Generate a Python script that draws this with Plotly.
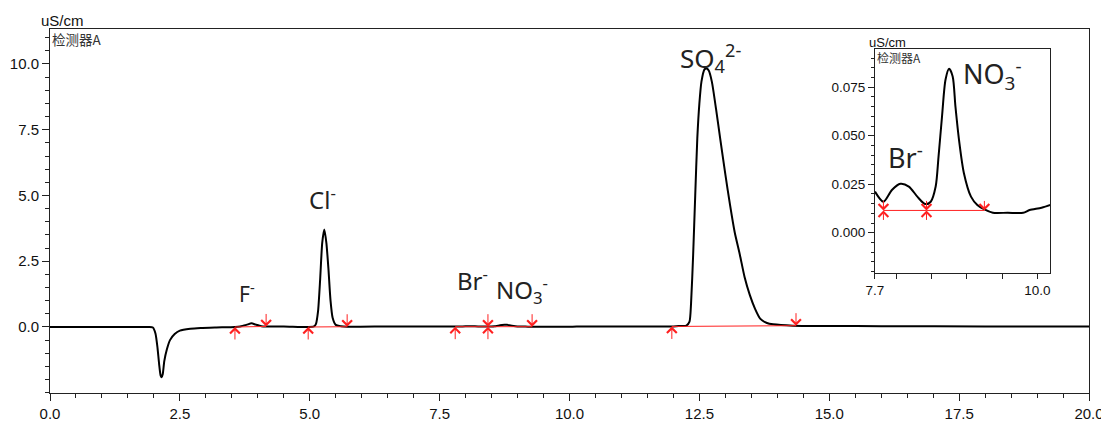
import plotly.graph_objects as go

# ---------------- data ----------------
# main trace: retention time (min) and conductivity (uS/cm)
time_main = [0.0, 1.0, 1.9, 1.98, 2.03, 2.07, 2.10, 2.13, 2.15, 2.17, 2.20, 2.25, 2.31, 2.40, 2.50,
             2.70, 2.90, 3.20, 3.56, 3.66, 3.78, 3.88, 3.96, 4.07, 4.16, 4.50, 4.97, 5.08, 5.12,
             5.16, 5.20, 5.24, 5.28, 5.32, 5.36, 5.40, 5.44, 5.50, 5.60, 5.72, 6.50, 7.30, 7.70,
             7.82, 7.94, 8.06, 8.18, 8.30, 8.41, 8.49, 8.56, 8.60, 8.65, 8.70, 8.75, 8.80, 8.84,
             8.89, 8.96, 9.06, 9.15, 9.25, 9.37, 9.58, 9.80, 9.89, 10.06, 10.20, 11.0, 11.97,
             12.10, 12.25, 12.31, 12.34, 12.38, 12.42, 12.46, 12.50, 12.54, 12.60, 12.64, 12.68,
             12.74, 12.82, 12.90, 13.00, 13.09, 13.18, 13.28, 13.37, 13.47, 13.57, 13.67, 13.80,
             13.92, 14.30, 15.0, 16.0, 18.0, 20.0]
signal_main = [0.0, 0.0, 0.0, -0.02, -0.25, -0.8, -1.4, -1.85, -1.91, -1.8, -1.3, -0.85, -0.5, -0.27,
               -0.14, -0.07, -0.04, -0.02, 0.0, 0.02, 0.08, 0.14, 0.09, 0.03, 0.02, 0.02, 0.0, 0.02,
               0.12, 0.6, 1.8, 3.2, 3.71, 3.2, 2.2, 1.0, 0.35, 0.08, 0.03, 0.01, 0.02, 0.02, 0.021,
               0.016, 0.022, 0.025, 0.024, 0.019, 0.015, 0.016, 0.024, 0.039, 0.060, 0.079, 0.084,
               0.081, 0.065, 0.048, 0.031, 0.019, 0.014, 0.012, 0.010, 0.010, 0.010, 0.012, 0.013,
               0.015, 0.02, 0.02, 0.04, 0.05, 0.2, 0.9, 2.74, 5.0, 7.17, 8.5, 9.33, 9.8, 9.83, 9.75,
               9.33, 8.3, 7.17, 5.8, 4.64, 3.6, 2.74, 1.9, 1.22, 0.7, 0.32, 0.15, 0.10, 0.05, 0.04,
               0.03, 0.02, 0.02]

# inset trace (zoom on Br- / NO3-)
time_inset = [7.70, 7.82, 7.94, 8.06, 8.18, 8.30, 8.41, 8.49, 8.56, 8.60, 8.65, 8.70, 8.75, 8.80,
              8.84, 8.89, 8.96, 9.06, 9.15, 9.25, 9.37, 9.58, 9.80, 9.89, 10.06, 10.20]
signal_inset = [0.0212, 0.0160, 0.0220, 0.0252, 0.0238, 0.0186, 0.0148, 0.0160, 0.0238, 0.0390,
                0.0600, 0.0790, 0.0845, 0.0807, 0.0650, 0.0480, 0.0307, 0.0186, 0.0143, 0.0120,
                0.0103, 0.0103, 0.0103, 0.0117, 0.0129, 0.0145]

# peak integration (start / end times and baseline levels)
peak_names = ["F<sup>-</sup>", "Cl<sup>-</sup>", "Br<sup>-</sup>", "NO<sub>3</sub><sup>-</sup>",
              "SO<sub>4</sub><sup>2-</sup>"]
peak_start = [3.56, 4.97, 7.80, 8.43, 11.97]
peak_end = [4.16, 5.72, 8.43, 9.28, 14.36]
base_start = [0.0, 0.0, 0.0115, 0.0115, 0.02]
base_end = [0.02, 0.01, 0.0115, 0.0115, 0.05]

inset_names = ["Br<sup>-</sup>", "NO<sub>3</sub><sup>-</sup>"]
inset_start = [7.82, 8.43]
inset_end = [8.43, 9.25]
inset_base = [0.0115, 0.0115]

# tick labels
main_xticks = [0.0, 2.5, 5.0, 7.5, 10.0, 12.5, 15.0, 17.5, 20.0]
main_yticks = [0.0, 2.5, 5.0, 7.5, 10.0]
inset_xticks = [7.7, 8.0, 8.5, 9.0, 9.5, 10.0]
inset_xtext = ["7.7", "", "", "", "", "10.0"]
inset_yticks = [0.0, 0.025, 0.05, 0.075]

# ---------------- figure ----------------
RED = "#ff2020"
AXIS = "#222222"
TICKFONT = dict(family="Liberation Sans, Arial", size=15, color="#111111")
INSETFONT = dict(family="Liberation Sans, Arial", size=13.5, color="#111111")
LABELFONT = "Noto Sans, Open Sans"

fig = go.Figure()

fig.add_trace(go.Scatter(x=time_main, y=signal_main, mode="lines",
                         line=dict(color="black", width=2, shape="spline", smoothing=0.6),
                         xaxis="x", yaxis="y", hoverinfo="skip", showlegend=False))

# integration baselines (main)
bx, by = [], []
for s, e, ys, ye in zip(peak_start, peak_end, base_start, base_end):
    bx += [s, e, None]
    by += [ys, ye, None]
fig.add_trace(go.Scatter(x=bx, y=by, mode="lines", line=dict(color=RED, width=1),
                         xaxis="x", yaxis="y", hoverinfo="skip", showlegend=False))

fig.add_trace(go.Scatter(x=time_inset, y=signal_inset, mode="lines",
                         line=dict(color="black", width=2, shape="spline", smoothing=0.8),
                         xaxis="x2", yaxis="y2", hoverinfo="skip", showlegend=False))
ix, iy = [], []
for s, e, b in zip(inset_start, inset_end, inset_base):
    ix += [s, e, None]
    iy += [b, b, None]
fig.add_trace(go.Scatter(x=ix, y=iy, mode="lines", line=dict(color=RED, width=1),
                         xaxis="x2", yaxis="y2", hoverinfo="skip", showlegend=False))

annotations = []


def arrow(x, y, up, xref, yref, length=14):
    return dict(x=x, y=y, xref=xref, yref=yref, text="", showarrow=True,
                ax=0, ay=(length if up else -length), arrowhead=4, arrowsize=1.9,
                arrowwidth=1, arrowcolor=RED, standoff=0, startstandoff=0)


for s, e, ys, ye in zip(peak_start, peak_end, base_start, base_end):
    annotations.append(arrow(s, ys, True, "x", "y"))
    annotations.append(arrow(e, ye, False, "x", "y"))

annotations.append(arrow(inset_start[0], inset_base[0], False, "x2", "y2", 11))
annotations.append(arrow(inset_start[0], inset_base[0], True, "x2", "y2", 11))
annotations.append(arrow(inset_start[1], inset_base[1], False, "x2", "y2", 11))
annotations.append(arrow(inset_start[1], inset_base[1], True, "x2", "y2", 11))
annotations.append(arrow(inset_end[1], inset_base[1], False, "x2", "y2", 11))

# peak labels
label_pos = [(3.79, 1.33, 21), (5.24, 4.87, 24), (8.14, 1.79, 24), (9.09, 1.41, 24), (12.72, 10.23, 26)]
for name, (lx, ly, fs) in zip(peak_names, label_pos):
    annotations.append(dict(x=lx, y=ly, xref="x", yref="y", text=name, showarrow=False,
                            font=dict(family=LABELFONT, size=fs, color="#222222")))
inset_label_pos = [(8.13, 0.0395, 27), (9.36, 0.0818, 27)]
for name, (lx, ly, fs) in zip(inset_names, inset_label_pos):
    annotations.append(dict(x=lx, y=ly, xref="x2", yref="y2", text=name, showarrow=False,
                            font=dict(family=LABELFONT, size=fs, color="#222222")))

# units and detector captions
annotations += [
    dict(x=0.0, y=1.0, xref="paper", yref="paper", xanchor="left", yanchor="bottom",
         text="uS/cm", showarrow=False, xshift=-11, yshift=-2,
         font=dict(family="Liberation Sans, Arial", size=15, color="#111")),
    dict(x=0.0, y=1.0, xref="paper", yref="paper", xanchor="left", yanchor="top",
         text="检测器A", showarrow=False, yshift=2,
         font=dict(family="Noto Sans CJK SC", size=13.5, color="#333")),
    dict(x=0.794, y=0.945, xref="paper", yref="paper", xanchor="left", yanchor="bottom",
         text="uS/cm", showarrow=False, xshift=-8, yshift=-3,
         font=dict(family="Liberation Sans, Arial", size=13, color="#111")),
    dict(x=0.794, y=0.945, xref="paper", yref="paper", xanchor="left", yanchor="top",
         text="检测器A", showarrow=False, yshift=2,
         font=dict(family="Noto Sans CJK SC", size=12, color="#333")),
]

# the page body adds an 8 px offset, so the figure is 8 px smaller on each axis
fig.update_layout(
    width=1101, height=413,
    margin=dict(l=42, r=20, t=21, b=28, autoexpand=False),
    paper_bgcolor="white", plot_bgcolor="white",
    showlegend=False,
    annotations=annotations,
    xaxis=dict(domain=[0, 1], range=[0, 20], tickvals=main_xticks,
               ticktext=[f"{v:.1f}" for v in main_xticks],
               ticks="outside", ticklen=7, tickcolor=AXIS, showgrid=False, zeroline=False,
               showline=True, linecolor=AXIS, linewidth=1, mirror=True, automargin=False,
               minor=dict(dtick=0.5, ticks="outside", ticklen=4, tickcolor=AXIS, showgrid=False),
               tickfont=TICKFONT, anchor="y"),
    yaxis=dict(domain=[0, 1], range=[-2.51, 11.33], tickvals=main_yticks,
               ticktext=[f"{v:.1f}" for v in main_yticks],
               ticks="outside", ticklen=7, tickcolor=AXIS, showgrid=False, zeroline=False,
               showline=True, linecolor=AXIS, linewidth=1, mirror=True, automargin=False,
               minor=dict(dtick=0.5, ticks="outside", ticklen=4, tickcolor=AXIS, showgrid=False),
               tickfont=TICKFONT, anchor="x"),
    xaxis2=dict(domain=[0.794, 0.9625], range=[7.7, 10.18], tickvals=inset_xticks,
                ticktext=inset_xtext, ticks="outside", ticklen=5, tickcolor=AXIS,
                showgrid=False, zeroline=False, showline=True, linecolor=AXIS, linewidth=1,
                mirror=True, automargin=False, tickfont=INSETFONT, anchor="y2"),
    yaxis2=dict(domain=[0.3305, 0.945], range=[-0.0206, 0.0947], tickvals=inset_yticks,
                ticktext=["0.000", "0.025", "0.050", "0.075"], ticks="outside", ticklen=6,
                tickcolor=AXIS, showgrid=False, zeroline=False, showline=True, linecolor=AXIS,
                linewidth=1, mirror=True, automargin=False,
                minor=dict(dtick=0.005, ticks="outside", ticklen=3, tickcolor=AXIS, showgrid=False),
                tickfont=INSETFONT, anchor="x2"),
)

fig.write_html("out.html")
